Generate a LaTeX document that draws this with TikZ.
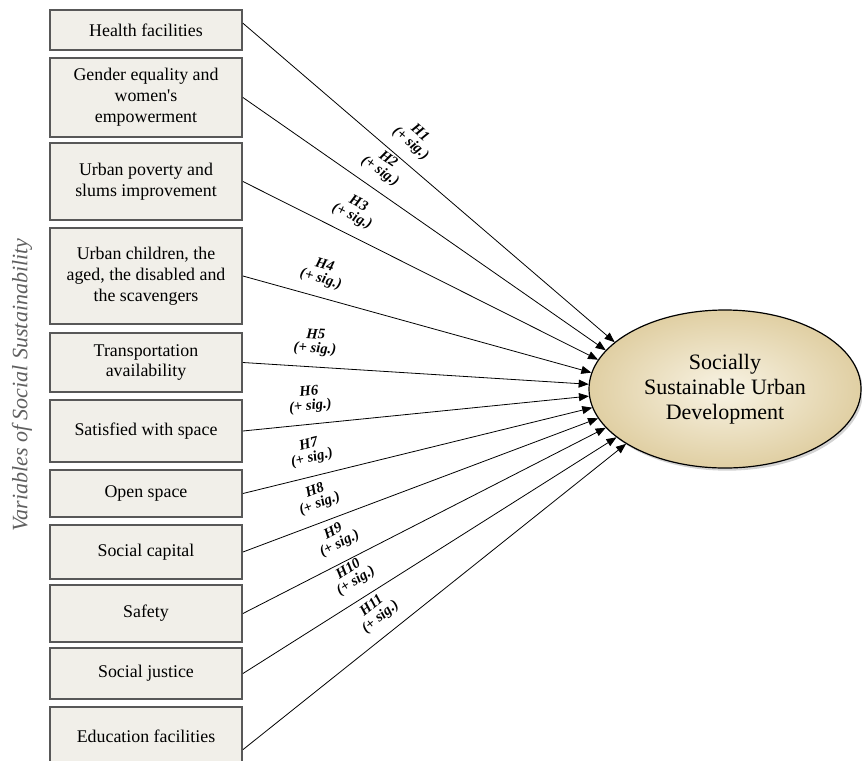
\documentclass[tikz,border=0pt]{standalone}
\usepackage{fontspec}
\setmainfont{Liberation Serif}
\usetikzlibrary{arrows.meta, shapes.geometric, shadows}
\definecolor{boxfill}{RGB}{241, 239, 233}
\definecolor{boxline}{RGB}{88, 88, 88}
\definecolor{ssudlight}{RGB}{248, 243, 228}
\definecolor{ssudtan}{RGB}{224, 207, 163}
\definecolor{sidegray}{RGB}{95, 95, 95}
\tikzset{
  varbox/.style={
    draw=boxline,
    line width=1.4pt,
    fill=boxfill,
    minimum width=144pt,
    inner sep=2pt,
    align=center,
    font=\fontsize{13.4}{15.6}\selectfont
  },
  outcome/.style={
    ellipse,
    draw=black,
    line width=0.9pt,
    inner color=ssudlight,
    outer color=ssudtan,
    drop shadow={opacity=0.35, shadow xshift=1.5pt, shadow yshift=-2pt},
    minimum width=204pt,
    minimum height=118.5pt,
    inner sep=0pt,
    align=center,
    font=\fontsize{16.5}{18.8}\selectfont
  },
  hyp/.style={
    -{Triangle[length=7.5pt, width=6pt]},
    line width=0.6pt,
    draw=black
  },
  hlabel/.style={
    sloped,
    above=6pt,
    inner sep=2pt,
    align=center,
    font=\fontsize{11}{10.5}\selectfont\bfseries\itshape
  }
}

\begin{document}
\begin{tikzpicture}[x=0.75pt, y=-0.75pt]
  \clip (0,0) rectangle (862,760);
  \node[varbox, minimum height=30pt] (b1) at (146,30) {Health facilities};
  \node[varbox, minimum height=59.25pt] (b2) at (146,97.5) {Gender equality and\\women\textquotesingle s\\empowerment};
  \node[varbox, minimum height=57.75pt] (b3) at (146,181.5) {Urban poverty and\\slums improvement};
  \node[varbox, minimum height=72pt] (b4) at (146,276) {Urban children, the\\aged, the disabled and\\the scavengers};
  \node[varbox, minimum height=44.25pt] (b5) at (146,362.5) {Transportation\\availability};
  \node[varbox, minimum height=46.5pt] (b6) at (146,431) {Satisfied with space};
  \node[varbox, minimum height=35.25pt] (b7) at (146,493.5) {Open space};
  \node[varbox, minimum height=40.5pt] (b8) at (146,552) {Social capital};
  \node[varbox, minimum height=42.75pt] (b9) at (146,613.5) {Safety};
  \node[varbox, minimum height=38.25pt] (b10) at (146,673.5) {Social justice};
  \node[varbox, minimum height=43.5pt] (b11) at (146,736) {Education facilities};

  \node[outcome] (ssud) at (725,389) {Socially\\Sustainable Urban\\Development};

  \node[rotate=90, text=sidegray, font=\fontsize{16.5}{18}\selectfont\itshape] (side) at (22,385) {Variables of Social Sustainability};

  \path (b1.4) edge[hyp] node[hlabel, pos=.42] {H1\\(+ sig.)} (ssud.157)
        (b2.east) edge[hyp] node[hlabel, pos=.35] {H2\\(+ sig.)} (ssud.162)
        (b3.east) edge[hyp] node[hlabel, pos=.285] {H3\\(+ sig.)} (ssud.167.5)
        (b4.east) edge[hyp] node[hlabel, pos=.21] {H4\\(+ sig.)} (ssud.173)
        (b5.east) edge[hyp] node[hlabel, pos=.205] {H5\\(+ sig.)} (ssud.178)
        (b6.east) edge[hyp] node[hlabel, pos=.2] {H6\\(+ sig.)} (ssud.183)
        (b7.east) edge[hyp] node[hlabel, pos=.21] {H7\\(+ sig.)} (ssud.188.5)
        (b8.east) edge[hyp] node[hlabel, pos=.234] {H8\\(+ sig.)} (ssud.193.5)
        (b9.east) edge[hyp] node[hlabel, pos=.289] {H9\\(+ sig.)} (ssud.198.5)
        (b10.east) edge[hyp] node[hlabel, pos=.328] {H10\\(+ sig.)} (ssud.204)
        (b11.-8.3) edge[hyp] node[hlabel, pos=.388] {H11\\(+ sig.)} (ssud.209);
\end{tikzpicture}
\end{document}
